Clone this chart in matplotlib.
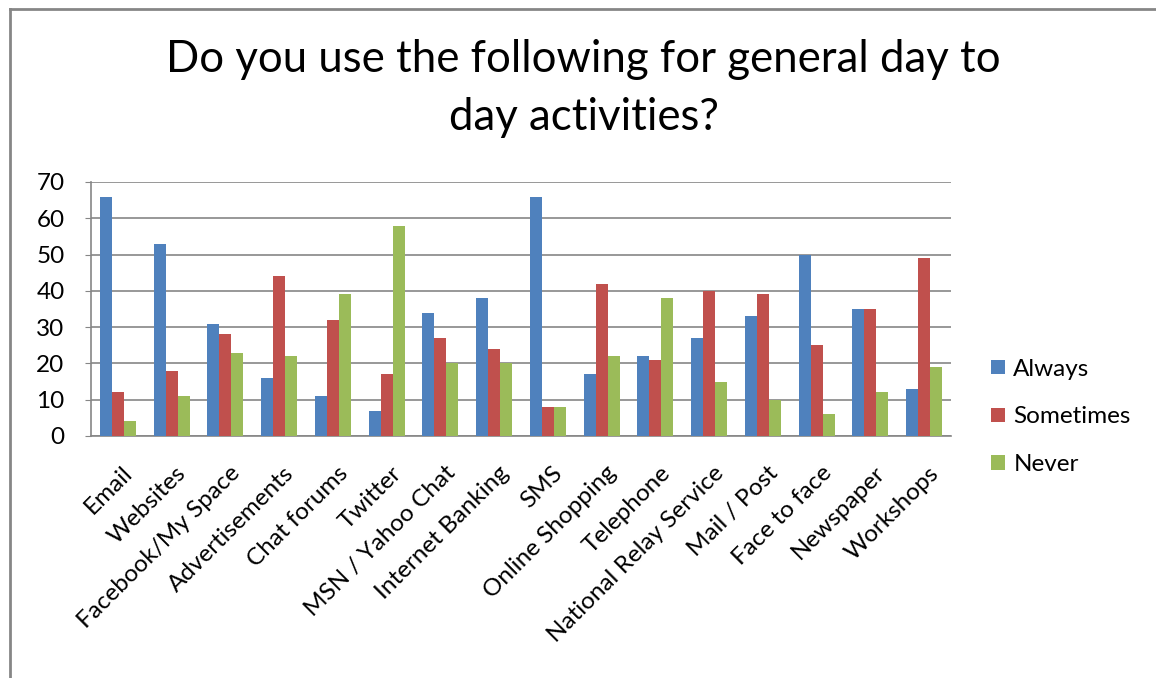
import matplotlib.pyplot as plt
import numpy as np
from matplotlib.lines import Line2D
from matplotlib.transforms import ScaledTranslation

plt.rcParams['font.family'] = ['Lato', 'DejaVu Sans']

categories = ['Email', 'Websites', 'Facebook/My Space', 'Advertisements', 'Chat forums',
              'Twitter', 'MSN / Yahoo Chat', 'Internet Banking', 'SMS', 'Online Shopping',
              'Telephone', 'National Relay Service', 'Mail / Post', 'Face to face',
              'Newspaper', 'Workshops']
always = [66, 53, 31, 16, 11, 7, 34, 38, 66, 17, 22, 27, 33, 50, 35, 13]
sometimes = [12, 18, 28, 44, 32, 17, 27, 24, 8, 42, 21, 40, 39, 25, 35, 49]
never = [4, 11, 23, 22, 39, 58, 20, 20, 8, 22, 38, 15, 10, 6, 12, 19]
series = ['Always', 'Sometimes', 'Never']
colors = ['#4F81BD', '#C0504D', '#9BBB59']

fig = plt.figure(figsize=(11.56, 6.78), dpi=100)
ax = fig.add_axes([91 / 1156, 1 - 436 / 678, 860 / 1156, 254 / 678])

x = np.arange(len(categories))
w = 1 / 4.5
for i, (vals, name, c) in enumerate(zip([always, sometimes, never], series, colors)):
    ax.bar(x + (i - 1) * w, vals, width=w, color=c, label=name, zorder=3)

ax.set_xlim(-0.5, len(categories) - 0.5)
ax.set_ylim(0, 70)
ax.set_yticks(range(0, 71, 10))
ax.yaxis.grid(True, color='#868686', linewidth=1.2, zorder=0)
ax.set_xticks(x)
ax.set_xticklabels(categories, rotation=45, ha='right', rotation_mode='anchor', fontsize=17.5)
ax.tick_params(axis='y', labelsize=17.5, length=4, color='#868686', pad=15)
ax.tick_params(axis='x', length=0, pad=19)
# nudge the slanted category labels a little to the right
shift = ScaledTranslation(4 / 100, 0, fig.dpi_scale_trans)
for lbl in ax.get_xticklabels():
    lbl.set_transform(lbl.get_transform() + shift)
for s in ['top', 'right']:
    ax.spines[s].set_visible(False)
ax.spines['left'].set_color('#868686')
ax.spines['bottom'].set_color('#868686')
ax.spines['left'].set_linewidth(1.2)
ax.spines['bottom'].set_linewidth(1.2)

fig.text(0.505, 1 - 60 / 678, 'Do you use the following for general day to', ha='center',
         va='center', fontsize=31.5)
fig.text(0.505, 1 - 118 / 678, 'day activities?', ha='center', va='center', fontsize=31.5)

ax.legend(loc='center left', bbox_to_anchor=(1.03, (436 - 417) / 254), frameon=False,
          fontsize=17.5, handlelength=0.55, handleheight=0.55, handletextpad=0.35,
          labelspacing=1.1, borderaxespad=0.2)

# outer chart border
fig.add_artist(Line2D([10 / 1156, 1], [1 - 9 / 678, 1 - 9 / 678], color='#868686', lw=2))
fig.add_artist(Line2D([10 / 1156, 10 / 1156], [0, 1 - 9 / 678], color='#868686', lw=2))

fig.savefig('out.png', dpi=100)
